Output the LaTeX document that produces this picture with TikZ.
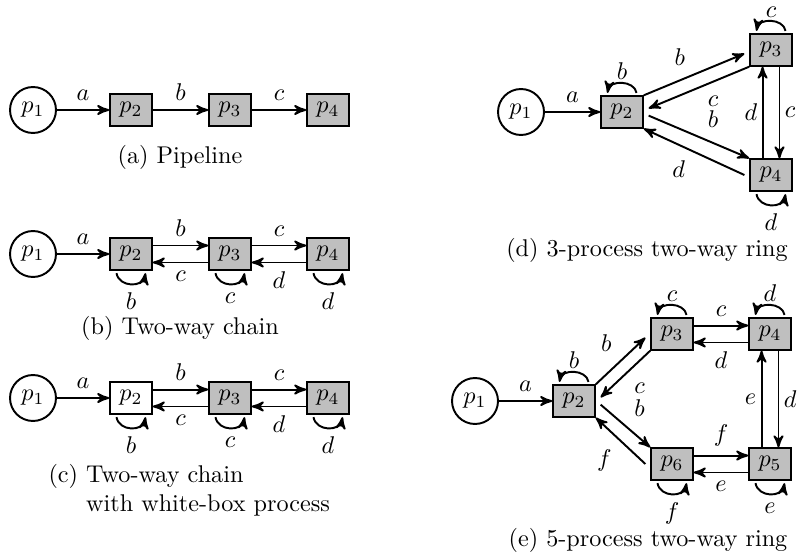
\documentclass[tikz,border=0pt]{standalone}
\usepackage{xcolor}
\usepackage{tikz}
\usetikzlibrary{arrows,calc,positioning}
\tikzset{
  srcnode/.style={circle, draw, thick, minimum size=19pt, inner sep=0pt},
  pbox/.style={rectangle, draw, thick, fill=gray!50, minimum width=17.2pt, minimum height=13pt, inner sep=1pt},
  wbox/.style={pbox, fill=white},
  flow/.style={->, >=stealth', thick},
  selfdn/.style={flow, bend right=80, looseness=1.3},
  selfup/.style={flow, bend right=80, looseness=1.15},
  lp/.style={inner sep=1pt},
  sp/.style={inner sep=1.8pt}
}

\begin{document}
\begin{tikzpicture}[x=0.4132pt, y=-0.4132pt]
  \useasboundingbox (0,0) rectangle (797,559);

  % (a) pipeline
  \node[srcnode] (a1) at (33,110) {$p_1$};
  \node[pbox] (a2) at (131,110) {$p_2$};
  \node[pbox] (a3) at (230,110) {$p_3$};
  \node[pbox] (a4) at (328,110) {$p_4$};
  \draw[flow] (a1) -- node[above] {$a$} (a2);
  \draw[flow] (a2) -- node[above] {$b$} (a3);
  \draw[flow] (a3) -- node[above] {$c$} (a4);
  \node (capa) at (180,157) {(a) Pipeline};

  % (b) two-way chain
  \node[srcnode] (b1) at (33,254) {$p_1$};
  \node[pbox] (b2) at (131,254) {$p_2$};
  \node[pbox] (b3) at (230,254) {$p_3$};
  \node[pbox] (b4) at (328,254) {$p_4$};
  \draw[flow] (b1) -- node[above] {$a$} (b2);
  \draw[flow] ([yshift=3.5pt]b2.east) -- node[above] {$b$} ([yshift=3.5pt]b3.west);
  \draw[flow] ([yshift=-3.5pt]b3.west) -- node[below] {$c$} ([yshift=-3.5pt]b2.east);
  \draw[flow] ([yshift=3.5pt]b3.east) -- node[above] {$c$} ([yshift=3.5pt]b4.west);
  \draw[flow] ([yshift=-3.5pt]b4.west) -- node[below] {$d$} ([yshift=-3.5pt]b3.east);
  \draw[selfdn] ([shift={(-6pt,-1pt)}]b2.south) to node[below] {$b$} ([shift={(6pt,-1pt)}]b2.south);
  \draw[selfdn] ([shift={(-6pt,-1pt)}]b3.south) to node[below] {$c$} ([shift={(6pt,-1pt)}]b3.south);
  \draw[selfdn] ([shift={(-6pt,-1pt)}]b4.south) to node[below] {$d$} ([shift={(6pt,-1pt)}]b4.south);
  \node (capb) at (180,328) {(b) Two-way chain};

  % (c) two-way chain, white box
  \node[srcnode] (c1) at (33,398) {$p_1$};
  \node[wbox] (c2) at (131,398) {$p_2$};
  \node[pbox] (c3) at (230,398) {$p_3$};
  \node[pbox] (c4) at (328,398) {$p_4$};
  \draw[flow] (c1) -- node[above] {$a$} (c2);
  \draw[flow] ([yshift=3.5pt]c2.east) -- node[above] {$b$} ([yshift=3.5pt]c3.west);
  \draw[flow] ([yshift=-3.5pt]c3.west) -- node[below] {$c$} ([yshift=-3.5pt]c2.east);
  \draw[flow] ([yshift=3.5pt]c3.east) -- node[above] {$c$} ([yshift=3.5pt]c4.west);
  \draw[flow] ([yshift=-3.5pt]c4.west) -- node[below] {$d$} ([yshift=-3.5pt]c3.east);
  \draw[selfdn] ([shift={(-6pt,-1pt)}]c2.south) to node[below] {$b$} ([shift={(6pt,-1pt)}]c2.south);
  \draw[selfdn] ([shift={(-6pt,-1pt)}]c3.south) to node[below] {$c$} ([shift={(6pt,-1pt)}]c3.south);
  \draw[selfdn] ([shift={(-6pt,-1pt)}]c4.south) to node[below] {$d$} ([shift={(6pt,-1pt)}]c4.south);
  \node[align=left, anchor=west] (capc) at (40,491) {(c) Two-way chain\\\phantom{(c) }with white-box process};

  % (d) 3-process ring
  \node[srcnode] (d1) at (521,112) {$p_1$};
  \node[pbox] (d2) at (622,112) {$p_2$};
  \node[pbox] (d3) at (771,50) {$p_3$};
  \node[pbox] (d4) at (771,175) {$p_4$};
  \draw[flow] (d1) -- node[above] {$a$} (d2);
  \draw[flow] (d2.north east) -- node[above left] {$b$} ([shift={(-2pt,-1.5pt)}]d3.west);
  \draw[flow] (d3.south west) -- node[below right] {$c$} ([shift={(2pt,1.5pt)}]d2.east);
  \draw[flow] ([shift={(2pt,-1.5pt)}]d2.east) -- node[above right] {$b$} (d4.north west);
  \draw[flow] ([xshift=-2pt]d4.west) -- node[below left] {$d$} (d2.south east);
  \draw[flow] ([xshift=-3.5pt]d4.north) -- node[left, sp] {$d$} ([xshift=-3.5pt]d3.south);
  \draw[flow] ([xshift=3.5pt]d3.south) -- node[right, sp] {$c$} ([xshift=3.5pt]d4.north);
  \draw[selfup] ([shift={(6pt,1pt)}]d2.north) to node[above, lp] {$b$} ([shift={(-6pt,1pt)}]d2.north);
  \draw[selfup] ([shift={(6pt,1pt)}]d3.north) to node[above, lp] {$c$} ([shift={(-6pt,1pt)}]d3.north);
  \draw[selfdn] ([shift={(-6pt,-1pt)}]d4.south) to node[below] {$d$} ([shift={(6pt,-1pt)}]d4.south);
  \node (capd) at (647,250) {(d) 3-process two-way ring};

  % (e) 5-process ring
  \node[srcnode] (e1) at (475,401) {$p_1$};
  \node[pbox] (e2) at (574,401) {$p_2$};
  \node[pbox] (e3) at (672,334) {$p_3$};
  \node[pbox] (e4) at (770,334) {$p_4$};
  \node[pbox] (e5) at (770,464) {$p_5$};
  \node[pbox] (e6) at (672,464) {$p_6$};
  \draw[flow] (e1) -- node[above] {$a$} (e2);
  \draw[flow] (e2.north east) -- node[above left] {$b$} ([shift={(-2pt,-1.5pt)}]e3.west);
  \draw[flow] (e3.south west) -- node[below right] {$c$} ([shift={(2pt,1.5pt)}]e2.east);
  \draw[flow] ([shift={(2pt,-1.5pt)}]e2.east) -- node[above right] {$b$} (e6.north west);
  \draw[flow] ([xshift=-2pt]e6.west) -- node[below left] {$f$} (e2.south east);
  \draw[flow] ([yshift=3.5pt]e3.east) -- node[above] {$c$} ([yshift=3.5pt]e4.west);
  \draw[flow] ([yshift=-3.5pt]e4.west) -- node[below] {$d$} ([yshift=-3.5pt]e3.east);
  \draw[flow] ([xshift=3.5pt]e4.south) -- node[right, sp] {$d$} ([xshift=3.5pt]e5.north);
  \draw[flow] ([xshift=-3.5pt]e5.north) -- node[left, sp] {$e$} ([xshift=-3.5pt]e4.south);
  \draw[flow] ([yshift=3.5pt]e6.east) -- node[above] {$f$} ([yshift=3.5pt]e5.west);
  \draw[flow] ([yshift=-3.5pt]e5.west) -- node[below] {$e$} ([yshift=-3.5pt]e6.east);
  \draw[selfup] ([shift={(6pt,1pt)}]e2.north) to node[above, lp] {$b$} ([shift={(-6pt,1pt)}]e2.north);
  \draw[selfup] ([shift={(6pt,1pt)}]e3.north) to node[above, lp] {$c$} ([shift={(-6pt,1pt)}]e3.north);
  \draw[selfup] ([shift={(6pt,1pt)}]e4.north) to node[above, lp] {$d$} ([shift={(-6pt,1pt)}]e4.north);
  \draw[selfdn] ([shift={(-6pt,-1pt)}]e6.south) to node[below] {$f$} ([shift={(6pt,-1pt)}]e6.south);
  \draw[selfdn] ([shift={(-6pt,-1pt)}]e5.south) to node[below] {$e$} ([shift={(6pt,-1pt)}]e5.south);
  \node (cape) at (648,540) {(e) 5-process two-way ring};
\end{tikzpicture}
\end{document}
